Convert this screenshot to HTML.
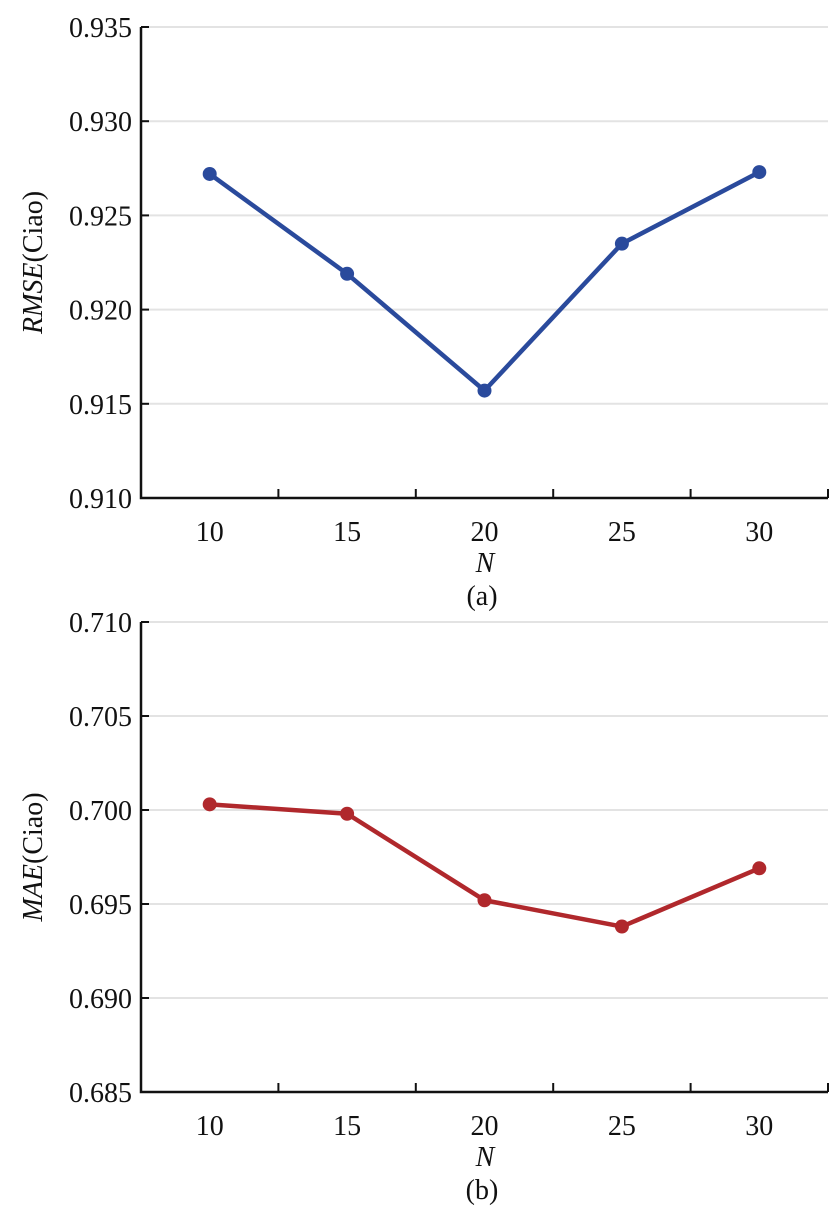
<!DOCTYPE html>
<html><head><meta charset="utf-8"><style>
body{margin:0;background:#fff;}
svg, svg text{font-family:"Liberation Serif","Times New Roman","DejaVu Serif",serif;}
</style></head><body>
<svg id="c" width="837" height="1220" viewBox="0 0 837 1220" xmlns="http://www.w3.org/2000/svg" font-family="Liberation Serif, Times New Roman, serif"></svg>
<script>
const categories = ["10","15","20","25","30"];
const rmseValues = [0.9272, 0.9219, 0.9157, 0.9235, 0.9273];
const maeValues = [0.7003, 0.6998, 0.6952, 0.6938, 0.6969];
const rmseTicks = ["0.910","0.915","0.920","0.925","0.930","0.935"];
const maeTicks = ["0.685","0.690","0.695","0.700","0.705","0.710"];

const svg = document.getElementById('c');
const NS = 'http://www.w3.org/2000/svg';
const FF = 'Liberation Serif, Times New Roman, serif';
function mk(tag, attrs, parent){const e=document.createElementNS(NS,tag);for(const k in attrs)e.setAttribute(k,attrs[k]);if(tag==='text')e.setAttribute('font-family',FF);(parent||svg).appendChild(e);return e;}

function drawChart(o){
  const g = mk('g',{});
  
  
  const x0=141, x1=828, yTop=o.top, yBot=o.bot;
  const tickNums = o.ticks.map(Number);
  const ymin=tickNums[0], ymax=tickNums[tickNums.length-1];
  const ys = v => yBot - (v-ymin)/(ymax-ymin)*(yBot-yTop);
  const bw = (x1-x0)/categories.length;
  const xs = i => x0 + bw*(i+0.5);
  o.ticks.forEach((t,i)=>{
    const y = ys(Number(t));
    if(i>0){
      const gl = mk('line',{x1:x0,x2:x1,y1:y,y2:y,stroke:'#e3e3e3','stroke-width':2},g);
      
      
    }
    mk('line',{x1:x0,x2:x0+8,y1:y,y2:y,stroke:'#111','stroke-width':2},g);
    const tx = mk('text',{x:x0-9,y:y+10,'text-anchor':'end','font-size':28,fill:'#111'},g);
    tx.textContent=t;
    
    
  });
  const ax = mk('path',{d:`M${x0},${yTop} V${yBot} H${x1}`,fill:'none',stroke:'#111','stroke-width':2.5},g);
  
  
  for(let i=1;i<=categories.length;i++){
    const x=x0+bw*i;
    mk('line',{x1:x,x2:x,y1:yBot,y2:yBot-9,stroke:'#111','stroke-width':2},g);
  }
  categories.forEach((c,i)=>{
    const tx = mk('text',{x:xs(i),y:yBot+43,'text-anchor':'middle','font-size':28,fill:'#111'},g);
    tx.textContent=c;
    
    
  });
  const xt = mk('text',{x:485,y:yBot+74,'text-anchor':'middle','font-size':28,'font-style':'italic',fill:'#111'},g);
  xt.textContent='N';
  
  
  const cap = mk('text',{x:482,y:yBot+107,'text-anchor':'middle','font-size':28,fill:'#111'},g);
  cap.textContent=o.caption;
  
  
  const yt = mk('text',{transform:`translate(42,${(yTop+yBot)/2}) rotate(-90)`,'text-anchor':'middle','font-size':28,fill:'#111'},g);
  const it = mk('tspan',{'font-style':'italic'},yt); it.textContent=o.ylabel;
  const rt = mk('tspan',{},yt); rt.textContent='(Ciao)';
  
  
  const pts = o.values.map((v,i)=>`${xs(i)},${ys(v)}`).join(' ');
  const pl = mk('polyline',{points:pts,fill:'none',stroke:o.color,'stroke-width':4.5,'stroke-linejoin':'round'},g);
  
  
  o.values.forEach((v,i)=>{
    const c = mk('circle',{cx:xs(i),cy:ys(v),r:7,fill:o.color},g);
    
    
  });
}
drawChart({name:'rmse-chart',top:27,bot:498,ticks:rmseTicks,values:rmseValues,color:'#2a4a9c',ylabel:'RMSE',caption:'(a)'});
drawChart({name:'mae-chart',top:622,bot:1092,ticks:maeTicks,values:maeValues,color:'#b0282c',ylabel:'MAE',caption:'(b)'});
</script>
</body></html>
